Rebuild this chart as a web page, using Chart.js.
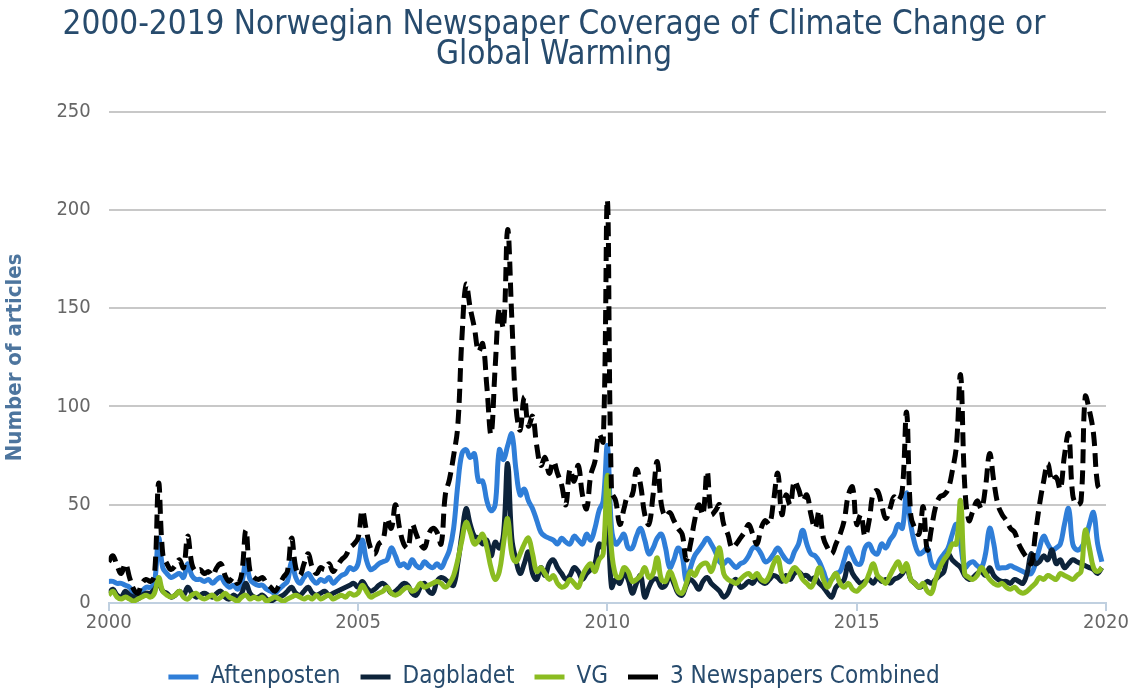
<!DOCTYPE html>
<html><head><meta charset="utf-8">
<script src="https://cdn.jsdelivr.net/npm/chart.js@4.4.1/dist/chart.umd.min.js"></script>
<style>html,body{margin:0;padding:0;background:#fff;} #wrap{width:1136px;height:689px;position:relative;}</style>
</head><body><div id="wrap"><canvas id="c"></canvas></div>
<script>
const titleLines = ['2000-2019 Norwegian Newspaper Coverage of Climate Change or', 'Global Warming'];
const seriesNames = ['Aftenposten', 'Dagbladet', 'VG', '3 Newspapers Combined'];
const startYear = 2000;
const xTicks = [2000, 2005, 2010, 2015, 2020];
const yTicks = [0, 50, 100, 150, 200, 250];

// monthly values, Jan 2000 .. Dec 2019
const aftenposten = [
 11,11,10,10,9,8,5,3,6,8,8,10,
 33,18,15,13,14,15,13,20,14,12,12,11,
 12,10,12,13,10,8,9,7,10,21,12,10,
 9,9,7,6,5,7,9,11,21,13,10,13,
 15,12,10,12,11,13,10,12,14,15,18,17,
 20,32,22,17,18,20,21,22,28,24,19,20,
 18,22,19,18,21,19,18,20,18,22,27,38,
 60,76,78,74,76,62,62,52,47,50,78,73,
 80,86,68,55,58,52,48,42,36,34,33,32,
 30,33,31,30,34,32,30,35,32,38,47,52,
 80,38,30,32,35,28,28,34,38,32,25,28,
 33,35,28,18,22,28,24,11,18,24,27,30,
 33,30,26,21,20,22,20,18,20,21,24,28,
 28,25,21,22,25,28,25,22,21,26,30,37,
 30,25,24,21,16,11,12,15,16,22,28,24,
 20,20,28,30,26,25,30,28,32,35,40,38,
 56,40,30,25,26,28,20,18,22,25,28,35,
 40,30,18,20,21,19,18,25,38,30,18,18,
 18,19,18,17,16,15,15,20,28,34,30,27,
 28,30,40,48,30,27,28,32,40,46,30,21
];
const dagbladet = [
 5,7,4,3,6,4,3,2,4,5,5,7,
 10,6,5,3,4,6,4,8,5,3,4,5,
 4,3,5,6,3,2,4,3,5,10,5,3,
 3,4,2,1,2,3,4,6,8,5,4,6,
 8,5,4,5,6,4,5,6,7,8,9,10,
 8,11,8,6,7,9,10,8,5,6,8,10,
 9,5,4,8,10,6,5,11,13,12,10,9,
 20,35,48,40,34,33,30,32,24,31,28,35,
 71,33,22,15,20,26,15,12,18,14,20,22,
 18,15,12,14,18,16,12,15,17,20,30,28,
 45,8,12,10,15,12,5,10,14,3,8,12,
 12,8,9,14,10,5,4,9,12,10,7,11,
 13,10,8,6,3,5,10,12,8,9,11,10,
 13,11,10,12,14,13,11,14,12,15,16,14,
 14,12,13,10,8,5,3,8,10,12,20,15,
 12,10,11,12,10,13,11,12,10,12,13,15,
 18,12,10,8,9,11,10,12,14,16,25,22,
 20,18,14,12,13,15,16,14,18,14,12,11,
 11,10,12,11,10,15,25,20,21,24,22,27,
 20,22,18,20,22,21,20,19,18,17,15,18
];
const vg = [
 4,6,3,2,3,2,1,2,3,4,3,5,
 13,6,4,3,4,6,3,2,4,5,3,2,
 3,4,2,3,5,3,2,1,3,4,2,3,
 2,3,1,2,3,2,1,2,3,4,3,2,
 3,2,4,2,3,4,2,3,4,3,5,4,
 5,9,6,3,4,5,6,8,5,4,5,7,
 8,6,7,10,8,9,10,11,10,8,10,14,
 22,32,41,36,30,32,35,28,18,12,16,30,
 43,25,21,25,30,33,25,16,18,15,12,14,
 10,8,9,12,10,8,14,18,20,16,22,25,
 65,27,14,13,18,16,11,12,14,18,13,15,
 23,12,11,16,12,6,5,10,16,14,18,20,
 20,16,22,28,15,12,11,10,12,14,15,13,
 15,12,11,14,20,23,14,11,15,18,16,12,
 10,8,12,18,12,8,12,15,10,8,10,7,
 6,8,10,15,20,14,12,10,14,18,21,16,
 20,12,10,8,10,6,5,12,18,22,25,30,
 30,52,15,13,12,14,18,15,12,10,9,10,
 8,7,8,6,5,6,8,10,13,12,14,13,
 12,15,14,13,12,14,16,37,28,18,16,18
];
const combined = [
 21,24,19,15,20,13,7,5,10,12,11,14,
 61,25,20,17,19,22,18,34,20,16,17,15,
 16,14,18,20,14,11,13,10,15,37,16,13,
 12,13,10,8,6,9,13,16,33,18,14,20,
 25,18,15,18,17,20,16,19,22,24,28,30,
 33,47,37,28,25,30,32,43,38,50,38,30,
 28,40,35,30,28,35,38,36,30,55,63,75,
 90,135,162,150,140,128,132,110,86,120,150,140,
 190,145,100,88,105,90,95,80,70,74,66,72,
 66,60,50,68,62,70,55,48,65,72,86,82,
 205,57,52,40,48,55,55,68,60,45,40,55,
 72,50,44,46,42,38,35,22,30,42,50,45,
 67,45,47,50,40,35,28,30,33,36,40,35,
 30,38,42,40,52,66,45,55,50,62,58,52,
 55,45,38,47,33,28,25,30,35,42,55,59,
 40,45,34,42,56,57,50,43,48,54,52,58,
 97,45,38,35,49,27,38,49,54,55,58,67,
 80,116,60,42,47,52,48,59,76,62,50,45,
 42,38,36,30,26,23,20,35,50,62,71,62,
 64,58,75,86,55,50,52,105,98,86,60,57
];

const toPoints = arr => arr.map((v, i) => ({x: startYear + i / 12, y: v}));
const FONT = '"DejaVu Sans Condensed", "DejaVu Sans", sans-serif';
const common = {borderWidth: 5, pointRadius: 0, pointHoverRadius: 0, tension: 0.4, fill: false, pointStyle: 'line'};

new Chart(document.getElementById('c'), {
  type: 'line',
  data: {
    datasets: [
      Object.assign({label: seriesNames[0], data: toPoints(aftenposten), borderColor: '#2f7ed8', backgroundColor: '#2f7ed8', order: 3}, common),
      Object.assign({label: seriesNames[1], data: toPoints(dagbladet), borderColor: '#0d233a', backgroundColor: '#0d233a', order: 2}, common),
      Object.assign({label: seriesNames[2], data: toPoints(vg), borderColor: '#8bbc21', backgroundColor: '#8bbc21', order: 1}, common),
      Object.assign({label: seriesNames[3], data: toPoints(combined), borderColor: '#000000', backgroundColor: '#000000', borderDash: [14, 7], order: 0}, common)
    ]
  },
  options: {
    responsive: true, maintainAspectRatio: false, animation: false, devicePixelRatio: 1,
    layout: {padding: {left: 2, right: 30, top: 0, bottom: -10}},
    plugins: {
      title: {display: true, text: titleLines, color: '#274b6d',
        font: {family: FONT, size: 33, weight: 'normal', lineHeight: 0.92}, padding: {top: 10, bottom: 41}},
      legend: {position: 'bottom',
        labels: {usePointStyle: true, pointStyleWidth: 30, color: '#274b6d', font: {family: FONT, size: 24}, padding: 20,
          sort: (a, b) => a.datasetIndex - b.datasetIndex}},
      tooltip: {enabled: false}
    },
    scales: {
      x: {type: 'linear', min: xTicks[0], max: xTicks[xTicks.length - 1],
        afterBuildTicks: s => { s.ticks = xTicks.map(v => ({value: v})); },
        afterFit: s => { s.height += 10; },
        ticks: {color: '#666', font: {family: FONT, size: 20}, padding: 0, callback: v => String(v), maxRotation: 0},
        grid: {display: true, drawOnChartArea: false, drawTicks: true, tickLength: 8, color: '#C0D0E0', lineWidth: 2},
        border: {color: '#C0D0E0', width: 2}},
      y: {min: 0, max: 250,
        afterBuildTicks: s => { s.ticks = yTicks.map(v => ({value: v})); },
        ticks: {color: '#666', font: {family: FONT, size: 20}, padding: 18},
        grid: {color: '#C8C8C8', lineWidth: 2, drawTicks: false},
        border: {display: false},
        title: {display: true, text: 'Number of articles', color: '#4d759e', font: {family: FONT, size: 22, weight: 'bold'}, padding: {top: 0, bottom: 10}}}
    }
  }
});
</script></body></html>
